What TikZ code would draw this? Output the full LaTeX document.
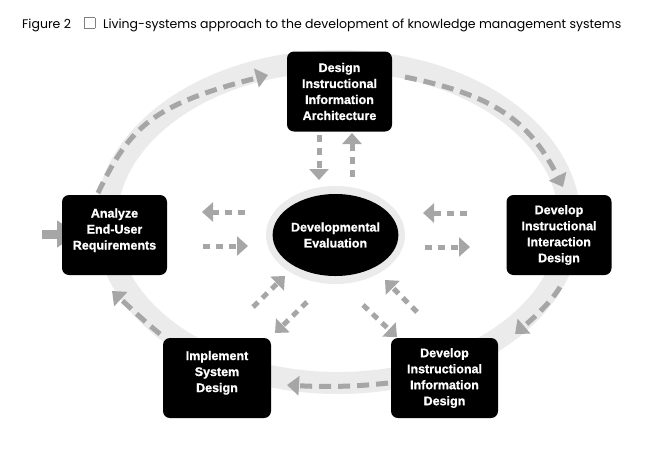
\documentclass[tikz,border=0pt]{standalone}
\usepackage{fontspec}
\setmainfont{Liberation Sans}
\newfontfamily\boxfont{Liberation Sans}[BoldFeatures={FakeBold=1}]
\newfontfamily\titlefont{Poppins}
\usetikzlibrary{arrows.meta,shapes.geometric,calc}
\definecolor{bandgray}{HTML}{EBEBEB}
\definecolor{dashgray}{HTML}{A6A6A6}
\begin{document}
\begin{tikzpicture}[x=1pt,y=-1pt,
  stepbox/.style={fill=black, rounded corners=7pt, minimum width=105pt,
    minimum height=80pt, inner sep=0pt, text=white, align=center,
    font=\boxfont\bfseries\fontsize{12.5}{16}\selectfont},
  ringarrow/.style={draw=dashgray, line width=5pt, dash pattern=on 12pt off 7pt,
    -{Triangle[length=12pt,width=19pt]}},
  flowarrow/.style={draw=dashgray, line width=5pt, dash pattern=on 7pt off 6pt,
    -{Triangle[length=11pt,width=19pt]}}]
\useasboundingbox (0,0) rectangle (648,450);

% title
\node[anchor=base west, inner sep=0pt, font=\titlefont\fontsize{12.5}{14}\selectfont] (title) at (22,28)
  {Figure 2\hspace{13pt}{\color{gray}\fboxsep=0pt\fboxrule=0.6pt\fbox{\rule{0pt}{10pt}\hspace{10pt}}}\hspace{8pt}Living-systems approach to the development of knowledge management systems};

% ring band
\draw[bandgray, line width=22pt] (338,222) ellipse[x radius=232, y radius=161];

% ring arrows
\coordinate (a1s) at (98,193);   \coordinate (a1e) at (268,75);
\coordinate (a2s) at (405,77);   \coordinate (a2e) at (563,187);
\coordinate (a3s) at (560,287);  \coordinate (a3e) at (515,334);
\coordinate (a4s) at (388,383);  \coordinate (a4e) at (287,385);
\coordinate (a5s) at (160,334);  \coordinate (a5e) at (112,291);
\draw[ringarrow] (a1s) .. controls (130,126) and (153.5,104.5) .. (a1e);
\draw[ringarrow] (a2s) .. controls (494.5,95.3) and (529.5,120.8) .. (a2e);
\draw[ringarrow] (a3s) .. controls (550,304) and (530,321) .. (a3e);
\draw[ringarrow] (a4s) .. controls (355,387) and (320,387) .. (a4e);
\draw[ringarrow] (a5s) .. controls (145,322) and (125,303) .. (a5e);

% input arrow
\coordinate (inp) at (42,234);
\coordinate (inq) at (77,234);
\draw[dashgray, line width=9pt, -{Triangle[length=20pt,width=26pt]}] (inp) -- (inq);

% boxes
\node[stepbox] (T) at (339.5,91.5) {Design\\Instructional\\Information\\Architecture};
\node[stepbox] (A) at (114.5,235) {Analyze\\End-User\\Requirements\\[-4pt]\mbox{}};
\node[stepbox] (R) at (559,235) {Develop\\Instructional\\Interaction\\Design};
\node[stepbox, minimum width=108pt] (BL) at (217,378) {Implement\\System\\Design\\[-3pt]\mbox{}};
\node[stepbox, minimum width=107pt] (BR) at (444.5,378) {Develop\\Instructional\\Information\\Design};

% centre
\node[ellipse, fill=bandgray, minimum width=139pt, minimum height=98pt, inner sep=0pt] (H) at (335.5,235) {};
\node[ellipse, fill=black, minimum width=115pt, minimum height=82pt, inner sep=0pt,
  text=white, align=center, font=\boxfont\bfseries\fontsize{12.5}{16}\selectfont] (E) at (335.5,235)
  {Developmental\\Evaluation};

% flow arrows
\coordinate (v1s) at (319,135); \coordinate (v1e) at (319,180);
\coordinate (v2s) at (352,177); \coordinate (v2e) at (352,133);
\coordinate (h1s) at (245,212); \coordinate (h1e) at (202,212);
\coordinate (h2s) at (203,246); \coordinate (h2e) at (248,246);
\coordinate (h3s) at (467,213); \coordinate (h3e) at (423,213);
\coordinate (h4s) at (425,247); \coordinate (h4e) at (470,247);
\coordinate (d1s) at (253,307); \coordinate (d1e) at (285,276);
\coordinate (d2s) at (307,302); \coordinate (d2e) at (275,333);
\coordinate (d3s) at (417,312); \coordinate (d3e) at (385,280);
\coordinate (d4s) at (363,305); \coordinate (d4e) at (397,337);
\foreach \p in {v1,v2,h1,h2,h3,h4,d1,d2,d3,d4}
  \draw[flowarrow] (\p s) -- (\p e);
\end{tikzpicture}
\end{document}
